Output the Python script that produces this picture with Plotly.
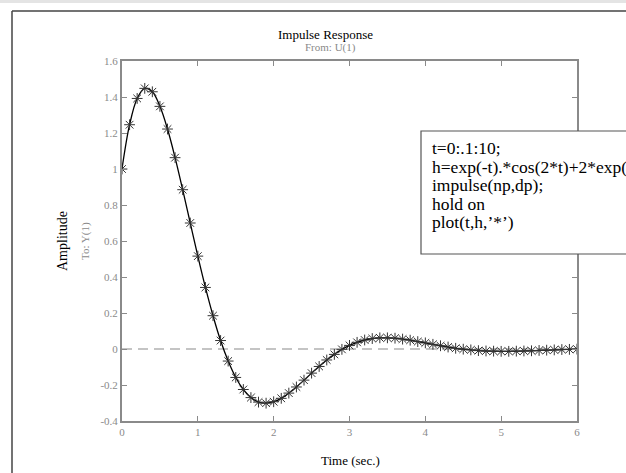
import plotly.graph_objects as go

# Data
t = [round(0.1 * i, 1) for i in range(61)]
h = [1.00, 1.246, 1.392, 1.448, 1.429, 1.348, 1.222, 1.063, 0.885, 0.700,
     0.516, 0.342, 0.185, 0.047, -0.067, -0.158, -0.225, -0.270, -0.295, -0.301,
     -0.293, -0.274, -0.245, -0.211, -0.173, -0.134, -0.097, -0.061, -0.030, -0.002,
     0.020, 0.037, 0.050, 0.058, 0.062, 0.062, 0.060, 0.055, 0.049, 0.041,
     0.034, 0.026, 0.018, 0.011, 0.004, -0.001, -0.005, -0.009, -0.011, -0.012,
     -0.013, -0.013, -0.012, -0.011, -0.010, -0.008, -0.0065, -0.005, -0.003, -0.002,
     -0.0006]

x_ticks = [0, 1, 2, 3, 4, 5, 6]
x_ticktext = ["0", "1", "2", "3", "4", "5", "6"]
y_ticks = [-0.4, -0.2, 0, 0.2, 0.4, 0.6, 0.8, 1.0, 1.2, 1.4, 1.6]
y_ticktext = ["-0.4", "-0.2", "0", "0.2", "0.4", "0.6", "0.8", "1", "1.2", "1.4", "1.6"]

code_lines = [
    "t=0:.1:10;",
    "h=exp(-t).*cos(2*t)+2*exp(-t).*sin(2*t);",
    "impulse(np,dp);",
    "hold on",
    "plot(t,h,\u2019*\u2019)",
]

W, H = 626, 473
L, R, T, B = 122, 577, 61, 421
pw, ph = R - L, B - T


def px(xp):
    return (xp - L) / pw


def py(yp):
    return (B - yp) / ph


SERIF = "Liberation Serif, Times New Roman, serif"
GRAY = "#8a8a8a"

fig = go.Figure()
fig.add_trace(go.Scatter(
    x=t, y=h, mode="lines", line=dict(color="black", width=1.3, shape="spline"),
    hoverinfo="skip", showlegend=False))
fig.add_trace(go.Scatter(
    x=t, y=h, mode="markers",
    marker=dict(symbol="asterisk-open", size=9, color="#333333",
                line=dict(color="#333333", width=1)),
    showlegend=False))

shapes = [
    # zero line
    dict(type="line", xref="x", yref="y", x0=0, x1=6, y0=0, y1=0,
         line=dict(color=GRAY, width=1.2, dash="10px,6px"), layer="below"),
    # top gray band
    dict(type="rect", xref="paper", yref="paper", x0=px(-5), x1=px(640),
         y0=py(3), y1=py(-5), fillcolor="#e4e4e4", line=dict(width=0)),
    # outer frame left & top
    dict(type="line", xref="paper", yref="paper", x0=px(12), x1=px(12),
         y0=py(11), y1=py(480), line=dict(color="#444444", width=1.5)),
    dict(type="line", xref="paper", yref="paper", x0=px(12), x1=px(640),
         y0=py(11), y1=py(11), line=dict(color="#444444", width=1.5)),
    # text box
    dict(type="rect", xref="paper", yref="paper", x0=px(421), x1=px(640),
         y0=py(254), y1=py(131), fillcolor="white",
         line=dict(color="#555555", width=1.2)),
]


def ann(text, x, y, size, color, angle=0, xanchor="center"):
    return dict(text=text, x=px(x), y=py(y), xref="paper", yref="paper",
                xanchor=xanchor, yanchor="middle", showarrow=False, textangle=angle,
                font=dict(family=SERIF, size=size, color=color))


annotations = [
    ann("Impulse Response", 325, 34, 13, "black"),
    ann("From: U(1)", 330, 48, 11, GRAY),
    ann("Amplitude", 62, 241, 14, "black", angle=-90),
    ann("To: Y(1)", 85, 241, 11, GRAY, angle=-90),
    ann("Time (sec.)", 350, 460, 13, "black"),
]

line_y = [148, 166.5, 185, 203.5, 222]
for txt, yy in zip(code_lines, line_y):
    annotations.append(ann(txt, 430, yy, 17.5, "black", xanchor="left"))

axis_common = dict(showline=True, linecolor=GRAY, linewidth=2, mirror="ticks",
                   ticks="inside", ticklen=5, tickcolor=GRAY, tickwidth=1,
                   showgrid=False, zeroline=False,
                   tickfont=dict(family=SERIF, size=11, color=GRAY))

fig.update_layout(
    width=W, height=H,
    margin=dict(l=L, r=W - R, t=T, b=H - B),
    paper_bgcolor="white", plot_bgcolor="white",
    xaxis=dict(range=[0, 6], tickvals=x_ticks, ticktext=x_ticktext, **axis_common),
    yaxis=dict(range=[-0.4, 1.6], tickvals=y_ticks, ticktext=y_ticktext, **axis_common),
    shapes=shapes, annotations=annotations, showlegend=False,
)

fig.write_html("out.html", config={"displayModeBar": False},
               post_script="document.body.style.margin='0';document.body.style.overflow='hidden';")
